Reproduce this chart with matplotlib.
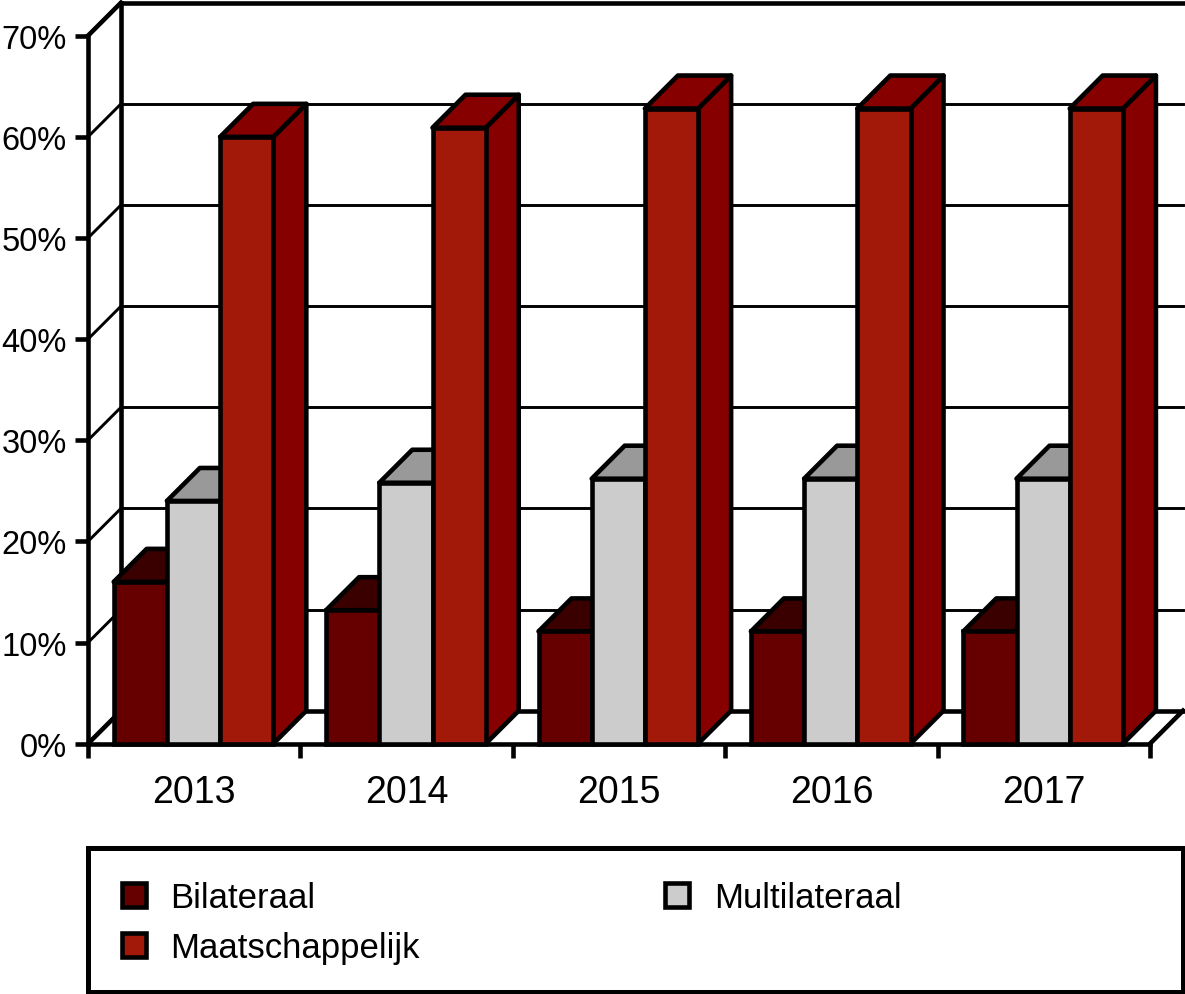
import matplotlib
matplotlib.use("Agg")
import matplotlib.pyplot as plt
import numpy as np
from matplotlib.patches import Rectangle

W, H = 1185, 995

years = ["2013", "2014", "2015", "2016", "2017"]
bilateraal = [16.0, 13.2, 11.1, 11.1, 11.1]
multilateraal = [24.0, 25.8, 26.2, 26.2, 26.2]
maatschappelijk = [60.0, 60.9, 62.8, 62.8, 62.8]
y_ticks = [0, 10, 20, 30, 40, 50, 60, 70]

series = [
    ("Bilateraal", bilateraal, "#660000", "#3a0000", "#3a0000"),
    ("Multilateraal", multilateraal, "#cccccc", "#999999", "#999999"),
    ("Maatschappelijk", maatschappelijk, "#a21809", "#860000", "#860000"),
]

plt.rcParams["font.family"] = ["Liberation Sans", "DejaVu Sans"]

fig = plt.figure(figsize=(W / 100, H / 100), dpi=100)
# front plane of the fake 3d box, in pixels of the reference
left, right, top, bottom = 88, 1150, 36.7, 744.7
ax = fig.add_axes([left / W, 1 - bottom / H, (right - left) / W, (bottom - top) / H])
ax.set_xlim(0, len(years))
ax.set_ylim(0, 70)
ax.patch.set_alpha(0)

depth_px = 33
dx = depth_px / ((right - left) / len(years))
dy = depth_px / ((bottom - top) / 70)

THICK = 3.3
THIN = 2.1
BAR_W = 0.2505
START = 0.121

# back wall, left wall and floor
for t in y_ticks:
    lw = THICK if t in (0, 70) else THIN
    ax.plot([0, dx], [t, t + dy], color="black", lw=lw, clip_on=False, zorder=1)
    ax.plot([dx, len(years) + dx], [t + dy, t + dy], color="black", lw=lw, clip_on=False, zorder=1)
ax.plot([dx, dx], [dy, 70 + dy], color="black", lw=THICK, clip_on=False, zorder=1)
ax.plot([len(years), len(years) + dx], [0, dy], color="black", lw=THICK, clip_on=False, zorder=1)

handles = {}
x = np.arange(len(years))
for k, (name, values, front, roof, side) in enumerate(series):
    xs = x + START + k * BAR_W
    for x0, v in zip(xs, values):
        x1 = x0 + BAR_W
        ax.fill([x1, x1 + dx, x1 + dx, x1], [0, dy, v + dy, v], facecolor=side,
                edgecolor="black", lw=THICK, clip_on=False, zorder=3, joinstyle="round")
        ax.fill([x0, x0 + dx, x1 + dx, x1], [v, v + dy, v + dy, v], facecolor=roof,
                edgecolor="black", lw=THICK, clip_on=False, zorder=3, joinstyle="round")
    handles[name] = ax.bar(xs, values, width=BAR_W, align="edge", color=front, edgecolor="black",
                           linewidth=THICK, clip_on=False, zorder=3, label=name)

for s in ["top", "right"]:
    ax.spines[s].set_visible(False)
for s in ["left", "bottom"]:
    ax.spines[s].set_linewidth(THICK)

ax.set_yticks(y_ticks)
ax.set_yticklabels(["{}%".format(t) for t in y_ticks], fontsize=23.5)
ax.tick_params(axis="y", length=9.4, width=THICK, pad=6)
ax.set_xticks(np.arange(len(years) + 1))
ax.set_xticklabels([])
ax.tick_params(axis="x", which="major", length=10, width=THICK)
ax.set_xticks(x + 0.5, years, minor=True, fontsize=27)
ax.tick_params(axis="x", which="minor", length=0, pad=22)

# legend box is wider than its content, so it is drawn on its own
fig.add_artist(Rectangle((87.5 / W, 1 - 992.5 / H), 1095.5 / W, 144 / H, transform=fig.transFigure,
                         facecolor="white", edgecolor="black", lw=3.6))
leg = fig.legend([handles["Bilateraal"], handles["Maatschappelijk"], handles["Multilateraal"]],
                 ["Bilateraal", "Maatschappelijk", "Multilateraal"],
                 ncol=2, loc="upper left", bbox_to_anchor=(121.5 / W, 1 - 882 / H), frameon=False,
                 fontsize=25, borderpad=0, borderaxespad=0, handlelength=0.71, handleheight=0.71,
                 handletextpad=0.70, labelspacing=0.49, columnspacing=7.05)
leg.set_zorder(5)

fig.savefig("out.png", dpi=100)
